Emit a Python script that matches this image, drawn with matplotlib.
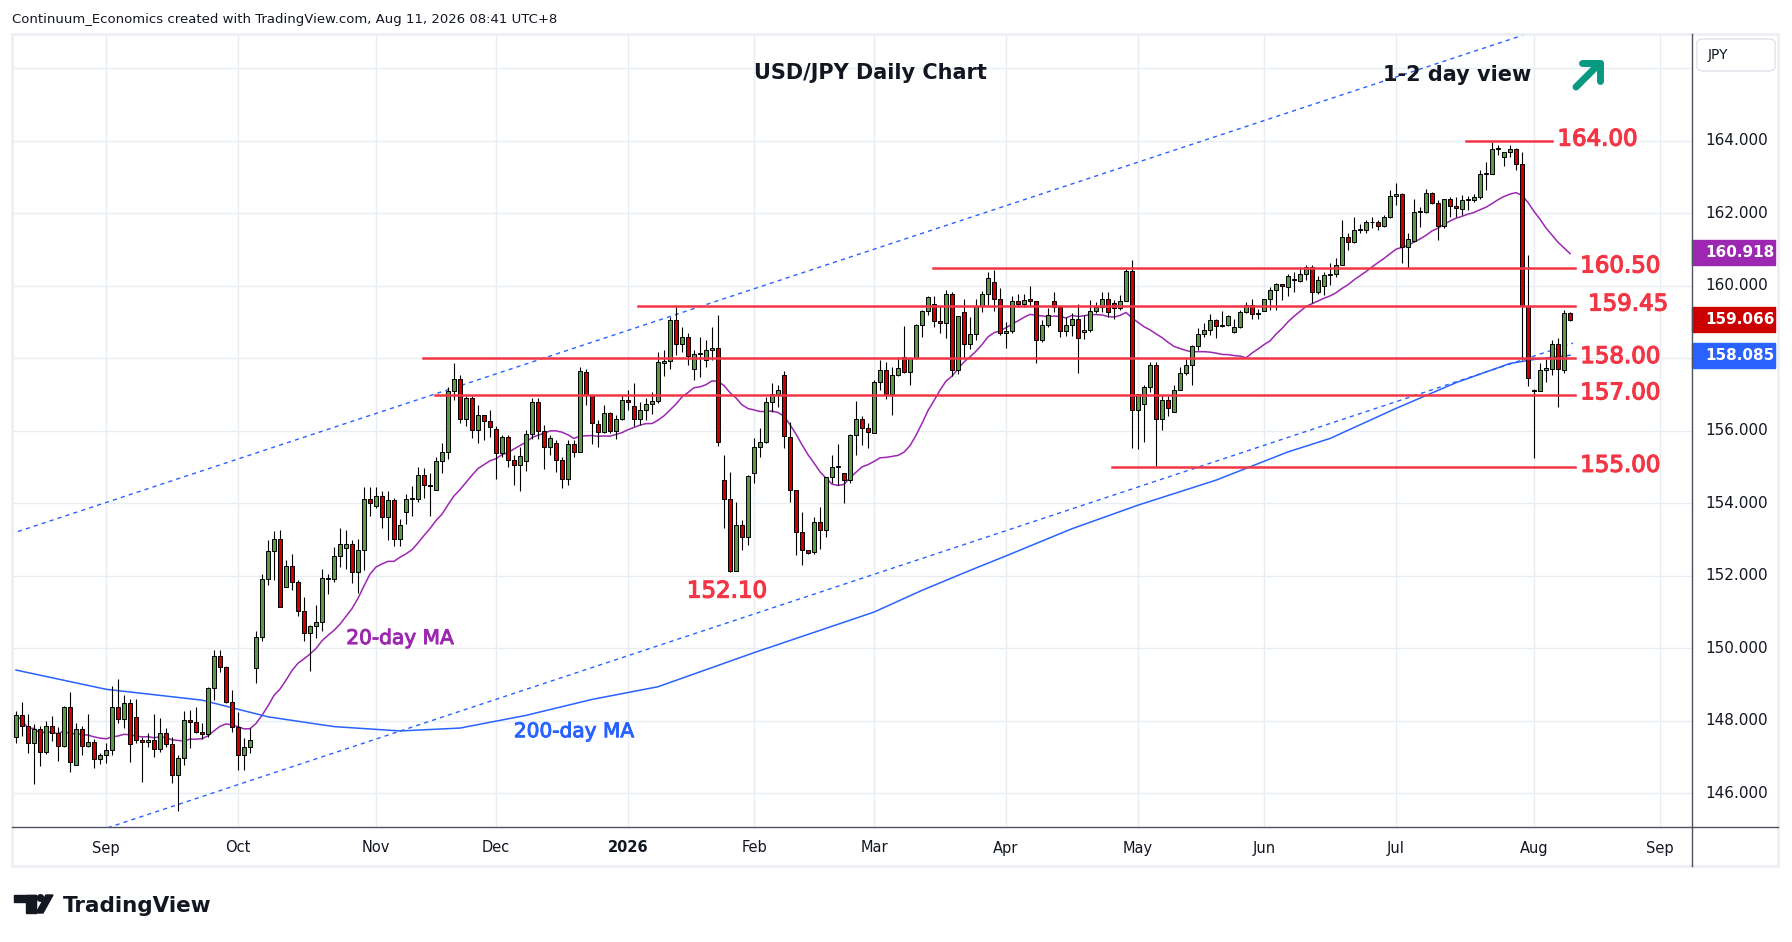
import numpy as np
import pandas as pd
import matplotlib
matplotlib.use("Agg")
import matplotlib.pyplot as plt
import matplotlib.transforms as mtransforms
import matplotlib.patheffects as pe
from matplotlib.patches import Rectangle, Polygon, Ellipse, FancyBboxPatch
from matplotlib.lines import Line2D

# daily USD/JPY candles, Aug 11 2025 .. Aug 11 2026 (no bars on Dec 25 / Jan 1)
opens = [
    147.54, 148.15, 147.86, 147.38, 147.77, 147.15, 147.87, 147.66, 147.31, 148.37,
    146.77, 147.77, 147.31, 147.41, 146.94, 147.05, 147.19, 148.37, 148.04, 148.48,
    148.11, 147.46, 147.41, 147.46, 147.21, 147.66, 147.35, 146.50, 146.97, 148.02,
    147.96, 147.70, 147.64, 148.91, 149.79, 149.48, 148.53, 147.82, 147.05, 147.28,
    149.45, 150.32, 151.90, 152.68, 153.03, 151.70, 152.26, 151.82, 151.03, 150.41,
    150.62, 150.74, 151.93, 151.90, 152.55, 152.76, 152.88, 152.10, 152.71, 154.11,
    153.94, 154.20, 153.63, 154.08, 153.03, 153.75, 154.11, 154.13, 154.77, 154.50,
    154.36, 155.16, 155.43, 157.11, 157.42, 156.34, 156.90, 156.02, 156.43, 156.26,
    156.04, 155.38, 155.84, 155.20, 155.05, 155.16, 155.90, 156.79, 156.00, 155.56,
    155.66, 155.20, 154.67, 155.63, 155.43, 157.63, 157.00, 156.20, 155.96, 156.48,
    156.00, 156.32, 156.85, 156.69, 156.32, 156.57, 156.74, 156.82, 157.87, 157.93,
    159.06, 158.41, 158.60, 157.72, 158.11, 157.96, 158.23, 158.30, 154.64, 154.11,
    152.14, 153.39, 153.06, 154.83, 155.56, 155.68, 156.79, 157.01, 157.53, 155.84,
    154.37, 153.22, 152.71, 152.65, 153.49, 153.26, 154.74, 155.01, 154.83, 154.64,
    155.88, 156.34, 156.07, 155.93, 157.34, 157.67, 157.03, 157.53, 158.03, 157.62,
    158.00, 158.91, 159.30, 159.49, 159.02, 158.97, 159.77, 157.67, 159.28, 158.39,
    158.66, 159.44, 159.77, 160.12, 159.63, 158.69, 158.75, 159.57, 159.49, 159.65,
    159.57, 158.51, 158.91, 159.57, 159.41, 158.75, 158.91, 159.10, 158.73, 158.78,
    159.31, 159.41, 159.63, 159.52, 159.38, 159.57, 160.40, 156.57, 156.73, 157.21,
    157.83, 156.32, 156.84, 156.51, 157.12, 157.59, 157.83, 158.33, 158.68, 158.77,
    159.05, 158.90, 158.91, 158.72, 158.86, 159.27, 159.46, 159.22, 159.32, 159.63,
    159.88, 160.05, 159.98, 160.20, 160.14, 160.33, 160.53, 159.84, 160.00, 160.30,
    160.34, 160.59, 161.34, 161.20, 161.54, 161.55, 161.75, 161.75, 161.66, 161.90,
    162.48, 162.53, 161.06, 161.24, 162.03, 162.03, 162.55, 162.30, 161.65, 162.39,
    162.20, 162.13, 162.37, 162.37, 162.44, 163.10, 163.10, 163.79, 163.56, 163.69,
    163.79, 163.36, 159.45, 157.12, 157.10, 157.68, 157.72, 158.39, 157.68, 159.25,
]
highs = [
    148.27, 148.52, 148.18, 147.90, 147.86, 148.00, 148.13, 147.84, 148.40, 148.80,
    147.93, 147.86, 148.19, 147.50, 147.10, 147.38, 148.96, 149.14, 148.71, 148.59,
    148.59, 147.54, 147.66, 148.19, 148.07, 147.79, 147.56, 147.06, 148.27, 148.30,
    148.37, 147.93, 148.94, 149.94, 149.95, 149.51, 148.85, 148.25, 147.52, 147.81,
    150.48, 152.05, 152.99, 153.24, 153.26, 152.44, 152.60, 151.88, 151.41, 150.64,
    151.20, 152.19, 152.05, 152.80, 153.31, 153.26, 152.99, 153.03, 154.44, 154.44,
    154.46, 154.34, 154.34, 154.15, 153.58, 154.26, 154.49, 155.01, 154.98, 154.83,
    155.29, 155.66, 157.22, 157.88, 157.54, 156.96, 156.96, 156.71, 156.44, 156.57,
    156.13, 155.88, 155.88, 155.33, 155.56, 156.02, 156.92, 156.92, 156.15, 155.88,
    155.75, 155.29, 155.75, 155.75, 157.77, 157.70, 157.00, 156.30, 156.71, 156.53,
    156.44, 156.99, 157.13, 157.31, 156.80, 156.90, 157.08, 158.18, 158.23, 159.15,
    159.44, 158.86, 158.69, 158.23, 158.58, 158.51, 158.86, 159.20, 155.33, 154.87,
    154.03, 153.54, 154.77, 155.79, 156.07, 156.94, 157.33, 157.26, 157.65, 156.25,
    154.37, 153.75, 152.72, 153.63, 153.91, 154.74, 155.33, 155.64, 154.85, 155.90,
    156.82, 156.41, 156.21, 157.40, 157.95, 157.91, 157.75, 158.05, 158.89, 158.00,
    158.95, 159.33, 159.73, 159.73, 159.44, 159.89, 159.82, 159.16, 159.63, 159.14,
    159.63, 159.87, 160.37, 160.44, 159.93, 158.99, 159.72, 159.79, 159.79, 160.00,
    159.57, 159.06, 159.38, 159.84, 159.41, 159.13, 159.26, 159.49, 159.20, 159.61,
    159.56, 159.84, 159.84, 159.61, 159.75, 160.46, 160.71, 157.01, 157.26, 157.91,
    157.91, 156.98, 156.96, 157.26, 157.75, 157.98, 158.37, 158.83, 158.97, 159.22,
    159.08, 159.31, 159.20, 159.09, 159.33, 159.56, 159.63, 159.35, 159.65, 159.98,
    160.09, 160.05, 160.34, 160.39, 160.53, 160.58, 160.58, 160.27, 160.39, 160.62,
    160.76, 161.82, 161.45, 161.89, 161.70, 161.83, 161.91, 161.82, 161.95, 162.64,
    162.83, 162.55, 161.45, 162.39, 162.18, 162.66, 162.60, 162.37, 162.41, 162.46,
    162.46, 162.51, 162.48, 162.53, 163.20, 163.43, 163.96, 163.88, 163.69, 163.88,
    163.80, 163.70, 160.85, 157.15, 157.88, 157.97, 158.52, 158.57, 159.33, 159.29,
]
lows = [
    147.38, 147.58, 147.12, 146.25, 146.76, 147.08, 147.45, 146.90, 147.28, 146.60,
    146.77, 147.06, 147.28, 146.69, 146.80, 146.83, 147.06, 147.93, 147.79, 146.85,
    147.38, 146.32, 147.29, 147.01, 147.15, 147.29, 146.29, 145.52, 146.78, 147.24,
    147.66, 147.49, 147.56, 148.57, 149.36, 148.50, 147.68, 146.63, 146.63, 147.10,
    149.03, 150.21, 151.75, 151.88, 151.13, 151.70, 151.60, 150.89, 150.21, 149.38,
    150.28, 150.48, 151.50, 151.84, 152.25, 152.20, 151.79, 151.54, 152.16, 153.65,
    153.86, 153.31, 152.99, 152.82, 152.82, 153.42, 153.66, 154.05, 154.15, 153.65,
    154.36, 154.83, 155.21, 156.85, 156.21, 156.13, 155.81, 155.66, 155.75, 155.84,
    154.66, 155.29, 155.01, 154.51, 154.35, 154.90, 155.77, 155.77, 154.96, 155.33,
    154.87, 154.41, 154.52, 155.29, 155.43, 156.71, 155.64, 155.56, 155.93, 155.93,
    155.77, 156.30, 156.57, 156.13, 156.16, 156.30, 156.46, 156.76, 157.51, 157.70,
    158.09, 158.18, 157.82, 157.40, 157.48, 157.75, 157.95, 155.58, 153.31, 152.11,
    152.12, 152.71, 152.85, 154.55, 155.29, 155.66, 156.53, 156.67, 155.52, 154.05,
    152.57, 152.30, 152.60, 152.60, 152.73, 153.08, 154.55, 154.51, 154.00, 154.55,
    155.33, 155.61, 155.54, 155.93, 157.13, 156.87, 156.44, 157.51, 157.60, 157.26,
    157.97, 158.58, 159.20, 158.86, 158.71, 158.55, 157.51, 157.57, 158.02, 158.26,
    158.51, 159.29, 159.47, 159.31, 158.64, 158.28, 158.69, 159.43, 159.43, 159.45,
    157.88, 158.46, 158.87, 159.29, 158.60, 158.62, 158.62, 157.59, 158.53, 158.74,
    159.24, 159.29, 159.15, 159.10, 159.33, 159.57, 155.52, 155.49, 155.70, 157.08,
    155.03, 156.02, 156.41, 156.51, 157.12, 157.54, 157.26, 158.23, 158.60, 158.64,
    158.57, 158.86, 158.89, 158.69, 158.83, 159.24, 159.10, 159.10, 159.30, 159.33,
    159.33, 159.61, 159.72, 159.84, 160.11, 160.16, 159.54, 159.79, 159.75, 160.02,
    160.25, 160.57, 160.99, 161.19, 161.45, 161.45, 161.59, 161.54, 161.63, 161.86,
    162.23, 160.62, 160.48, 161.22, 161.63, 162.00, 162.26, 161.26, 161.59, 161.91,
    161.89, 161.95, 162.09, 162.32, 162.39, 162.64, 163.10, 163.61, 163.31, 163.56,
    163.21, 157.95, 157.24, 155.24, 157.10, 157.36, 157.54, 156.67, 157.59, 159.04,
]
closes = [
    148.15, 147.86, 147.38, 147.77, 147.13, 147.87, 147.66, 147.31, 148.37, 146.87,
    147.77, 147.31, 147.41, 146.94, 147.05, 147.19, 148.37, 148.04, 148.48, 147.35,
    147.46, 147.41, 147.46, 147.21, 147.66, 147.35, 146.50, 146.97, 148.02, 147.96,
    147.70, 147.64, 148.91, 149.79, 149.48, 148.53, 147.82, 147.05, 147.28, 147.46,
    150.32, 151.90, 152.68, 153.03, 151.13, 152.26, 151.82, 151.03, 150.41, 150.62,
    150.74, 151.93, 151.90, 152.54, 152.88, 152.88, 152.10, 152.71, 154.11, 154.00,
    154.20, 153.63, 154.08, 153.03, 153.40, 154.11, 154.13, 154.77, 154.50, 154.48,
    155.16, 155.43, 157.11, 157.42, 156.32, 156.90, 156.02, 156.43, 156.26, 156.10,
    155.38, 155.84, 155.20, 155.05, 155.32, 155.90, 156.79, 156.00, 155.56, 155.79,
    155.20, 154.67, 155.63, 155.43, 157.66, 157.00, 156.23, 155.96, 156.48, 156.00,
    156.32, 156.85, 156.80, 156.32, 156.57, 156.74, 156.82, 157.91, 157.93, 159.06,
    158.41, 158.60, 158.06, 158.11, 158.11, 158.23, 158.30, 155.70, 154.11, 152.14,
    153.39, 153.06, 154.75, 155.56, 155.68, 156.79, 157.01, 157.14, 155.86, 154.37,
    153.22, 152.71, 152.62, 153.49, 153.26, 154.74, 154.99, 155.01, 154.64, 155.88,
    156.34, 156.07, 155.98, 157.34, 157.67, 157.03, 157.53, 157.73, 157.62, 158.00,
    158.91, 159.30, 159.68, 159.02, 158.97, 159.77, 157.67, 159.16, 158.39, 158.66,
    159.44, 159.77, 160.21, 159.63, 158.69, 158.75, 159.57, 159.49, 159.60, 159.57,
    158.51, 158.91, 159.21, 159.41, 158.75, 158.91, 159.10, 158.55, 158.78, 159.31,
    159.41, 159.63, 159.28, 159.38, 159.57, 160.40, 156.57, 157.01, 157.21, 157.83,
    156.32, 156.84, 156.62, 157.12, 157.59, 157.83, 158.33, 158.68, 158.77, 159.05,
    158.88, 158.91, 159.16, 158.86, 159.27, 159.46, 159.22, 159.22, 159.63, 159.88,
    160.05, 160.00, 160.26, 160.17, 160.33, 160.53, 159.84, 160.15, 160.30, 160.34,
    160.59, 161.34, 161.20, 161.54, 161.55, 161.75, 161.77, 161.66, 161.90, 162.48,
    162.53, 161.06, 161.29, 162.03, 162.03, 162.55, 162.30, 161.65, 162.39, 162.20,
    162.15, 162.37, 162.39, 162.44, 163.10, 163.10, 163.79, 163.80, 163.69, 163.79,
    163.36, 159.45, 157.45, 157.10, 157.68, 157.74, 158.39, 157.72, 159.25, 159.05,
]

# 200-day MA at a handful of bars
ma200_bar = [0, 15, 31, 42, 53, 64, 74, 85, 96, 107, 123, 143, 151, 159, 165,
             176, 187, 200, 212, 219, 230, 240, 249, 253, 259]
ma200_val = [149.40, 148.87, 148.57, 148.11, 147.84, 147.72, 147.80, 148.15, 148.59,
             148.94, 149.88, 151.00, 151.60, 152.15, 152.55, 153.30, 153.95, 154.64,
             155.42, 155.79, 156.62, 157.33, 157.86, 157.97, 158.085]

# trend channel (bar, price) end points
upper_chan = ([-1, 260], [153.15, 167.40])
lower_chan = ([10, 259.5], [144.76, 158.42])

# support / resistance levels and the bars they span
levels = [164.00, 160.50, 159.45, 158.00, 157.00, 155.00]
level_from = [241.7, 152.8, 103.7, 67.9, 69.8, 182.7]
level_to = [256.0, 259.8, 259.8, 259.8, 259.8, 259.8]

price_ticks = [146, 148, 150, 152, 154, 156, 160, 162, 164]
last_tags = [(160.918, "#9c27b0"), (159.066, "#cc0000"), (158.085, "#2962ff")]

o = np.array(opens); h = np.array(highs); l = np.array(lows); c = np.array(closes)
n = len(c)
x = np.arange(n)

dates = pd.bdate_range("2025-08-11", "2026-10-30")
dates = dates[~dates.isin(pd.to_datetime(["2025-12-25", "2026-01-01"]))]

W, H = 1792, 942
def fx(px):
    return px / W
def fy(py):
    return 1 - py / H

fig = plt.figure(figsize=(W / 100, H / 100), dpi=100)
fig.patch.set_facecolor("white")
ax = fig.add_axes([fx(12), fy(827), fx(1692) - fx(12), fy(34) - fy(827)])
ax.set_xlim(-0.67, 279.33)
ax.set_ylim(145.07, 166.95)
for s in ax.spines.values():
    s.set_visible(False)
ax.set_xticks([])
ax.set_yticks([])

# grid
month_pos = [k for k in range(1, len(dates)) if dates[k].month != dates[k - 1].month and k < 279]
for p in range(146, 167, 2):
    ax.axhline(p, color="#e8edf3", lw=1, zorder=0)
for k in month_pos:
    ax.axvline(k, color="#e8edf3", lw=1, zorder=0)

# channel and moving averages
ax.plot(*upper_chan, color="#2962ff", lw=1, ls=(0, (3, 3)), zorder=1)
ax.plot(*lower_chan, color="#2962ff", lw=1, ls=(0, (3, 3)), zorder=1)
ma20 = pd.Series(c).rolling(20, min_periods=1).mean()
ax.plot(x, ma20, color="#9c27b0", lw=1.1, zorder=2)
ax.plot(ma200_bar, ma200_val, color="#2962ff", lw=1.1, zorder=2)

# candles
up = c >= o
body_col = np.where(up, "#5a9a46", "#cc0000")
ax.vlines(x, l, h, color="black", lw=0.8, zorder=3)
ax.bar(x, np.maximum(np.abs(c - o), 0.025), bottom=np.minimum(o, c), width=0.66,
       color=body_col, edgecolor="black", linewidth=0.7, zorder=4)

# levels
red = "#f23645"
thick_red = [pe.withStroke(linewidth=0.9, foreground=red)]
for p, a, b in zip(levels, level_from, level_to):
    ax.plot([a, b], [p, p], color=red, lw=1.8, zorder=5)
lab_x = {164.00: 256.9, 159.45: 262.0}
for p in levels:
    ax.text(lab_x.get(p, 260.7), p + 0.05, f"{p:.2f}", color=red, fontsize=16.5,
            ha="left", va="center", zorder=6, path_effects=thick_red)
ax.text(118.5, 151.58, "152.10", color=red, fontsize=16.5, ha="center", va="center",
        path_effects=thick_red)
ax.text(64, 150.27, "20-day MA", color="#9c27b0", fontsize=14.5, ha="center", va="center",
        path_effects=[pe.withStroke(linewidth=0.7, foreground="#9c27b0")])
ax.text(93, 147.70, "200-day MA", color="#2962ff", fontsize=14.5, ha="center", va="center",
        path_effects=[pe.withStroke(linewidth=0.7, foreground="#2962ff")])

# titles
fig.text(fx(870), fy(73), "USD/JPY Daily Chart", fontsize=15, fontweight="bold",
         ha="center", va="center", color="#131722")
fig.text(fx(1457), fy(75), "1-2 day view", fontsize=15, fontweight="bold",
         ha="center", va="center", color="#131722")
arr_col = "#089981"
for seg in [([1576, 1597], [87, 66]), ([1582, 1600], [63, 63]), ([1600, 1600], [63, 81])]:
    fig.add_artist(Line2D([fx(v) for v in seg[0]], [fy(v) for v in seg[1]],
                          transform=fig.transFigure, color=arr_col, lw=5,
                          solid_capstyle="round", solid_joinstyle="round"))

# frame, axis lines
fig.add_artist(Rectangle((fx(12), fy(866)), fx(1778) - fx(12), fy(34) - fy(866),
                         transform=fig.transFigure, fill=False, edgecolor="#eceff3", lw=2))
fig.add_artist(Line2D([fx(12), fx(1778)], [fy(827), fy(827)], transform=fig.transFigure,
                      color="#50535e", lw=1))
fig.add_artist(Line2D([fx(1692), fx(1692)], [fy(34), fy(866)], transform=fig.transFigure,
                      color="#50535e", lw=1))

# price scale
ytr = mtransforms.blended_transform_factory(fig.transFigure, ax.transData)
for p in price_ticks:
    ax.text(fx(1705), p, f"{p:.3f}", transform=ytr, fontsize=11, color="#131722",
            ha="left", va="center", clip_on=False)
for p, col in last_tags:
    ax.add_patch(Rectangle((fx(1692), p - 0.34), fx(1775) - fx(1692), 0.68,
                           transform=ytr, color=col, clip_on=False, zorder=7))
    ax.text(fx(1705), p, f"{p:.3f}", transform=ytr, fontsize=11, color="white",
            fontweight="bold", ha="left", va="center", clip_on=False, zorder=8)
fig.add_artist(FancyBboxPatch((fx(1697), fy(71)), fx(1775) - fx(1697), fy(39) - fy(71),
                              boxstyle="round,pad=0,rounding_size=0.004",
                              transform=fig.transFigure, facecolor="white",
                              edgecolor="#e0e3eb", lw=1))
fig.text(fx(1708), fy(55), "JPY", fontsize=10, ha="left", va="center", color="#131722")

# time scale
xtr = mtransforms.blended_transform_factory(ax.transData, fig.transFigure)
for k in month_pos:
    d = dates[k]
    lab = str(d.year) if d.month == 1 else d.strftime("%b")
    ax.text(k, fy(848), lab, transform=xtr, fontsize=10.5, ha="center", va="center",
            color="#131722", fontweight="bold" if d.month == 1 else "normal", clip_on=False)

# header and footer
fig.text(fx(12), fy(19), "Continuum_Economics created with TradingView.com, Aug 11, 2026 08:41 UTC+8",
         fontsize=9.5, ha="left", va="center", color="#131722")
logo = "#131722"
fig.add_artist(Rectangle((fx(14), fy(902)), fx(35.5) - fx(14), fy(895) - fy(902),
                         transform=fig.transFigure, color=logo))
fig.add_artist(Rectangle((fx(26), fy(913)), fx(35.5) - fx(26), fy(895) - fy(913),
                         transform=fig.transFigure, color=logo))
fig.add_artist(Ellipse((fx(40.5), fy(898)), 6.5 / W, 6.5 / H, transform=fig.transFigure, color=logo))
fig.add_artist(Polygon([(fx(46), fy(895)), (fx(53), fy(895)), (fx(43), fy(913)), (fx(36), fy(913))],
                       closed=True, transform=fig.transFigure, color=logo))
fig.text(fx(63), fy(906), "TradingView", fontsize=15.5, fontweight="bold",
         ha="left", va="center", color=logo)

fig.savefig("out.png", dpi=100, facecolor="white")
